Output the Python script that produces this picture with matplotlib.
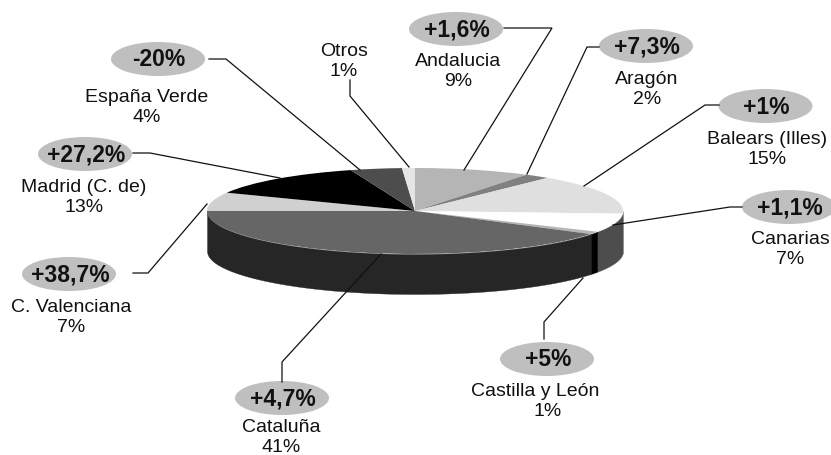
import numpy as np
import matplotlib
matplotlib.use("Agg")
import matplotlib.pyplot as plt
from matplotlib.patches import Ellipse

plt.rcParams['font.family'] = ['Liberation Sans', 'DejaVu Sans']

# Regional shares, clockwise from twelve o'clock
regions = ["Andalucia", "Aragón", "Balears (Illes)", "Canarias", "Castilla y León",
           "Cataluña", "C. Valenciana", "Madrid (C. de)", "España Verde", "Otros"]
shares = [9, 2, 15, 7, 1, 41, 7, 13, 4, 1]
changes = ["+1,6%", "+7,3%", "+1%", "+1,1%", "+5%", "+4,7%", "+38,7%", "+27,2%", "-20%", None]

top_colors = ["#b5b5b5", "#808080", "#dfdfdf", "#ffffff", "#b5b5b5",
              "#666666", "#d0d0d0", "#000000", "#4d4d4d", "#e5e5e5"]
side_colors = ["#8a8a8a", "#606060", "#a0a0a0", "#4d4d4d", "#000000",
               "#262626", "#909090", "#000000", "#303030", "#a0a0a0"]

W, H = 831, 455
PIE_LEFT, PIE_RIGHT, PIE_TOP, PIE_MID, WALL = 207, 623, 168, 211, 40

fig = plt.figure(figsize=(W / 100, H / 100), dpi=100, facecolor="white")

# Pie axes: the unit circle is squashed to an ellipse by the axes shape
semi_y = PIE_MID - PIE_TOP
depth = WALL / semi_y
pie_ax = fig.add_axes([PIE_LEFT / W, 1 - (PIE_TOP + 2 * semi_y + WALL) / H,
                       (PIE_RIGHT - PIE_LEFT) / W, (2 * semi_y + WALL) / H])
pie_ax.pie(shares, colors=top_colors, startangle=90, counterclock=False,
           center=(0, 0), radius=1, wedgeprops={"linewidth": 0, "zorder": 3})

# Outer wall: only the front half of each slice's rim is visible
edges = np.cumsum([0] + shares) / sum(shares) * 360
for start, stop, color in zip(edges[:-1], edges[1:], side_colors):
    lo, hi = max(start, 90), min(stop, 270)
    if hi <= lo:
        continue
    theta = np.radians(np.linspace(lo, hi, 80))
    x, y = np.sin(theta), np.cos(theta)
    pie_ax.fill_between(x, y - depth, y, color=color, linewidth=0.25, zorder=2)

pie_ax.set_aspect("auto")
pie_ax.set_xlim(-1, 1)
pie_ax.set_ylim(-1 - depth, 1)
pie_ax.axis("off")

# Overlay in pixel coordinates for leaders, bubbles and captions
ov = fig.add_axes([0, 0, 1, 1], facecolor="none")
ov.set_xlim(0, W)
ov.set_ylim(H, 0)
ov.axis("off")

leaders = [
    [(504, 28), (552, 28), (464, 170)],
    [(599, 47), (587, 47), (527, 174)],
    [(719, 105), (705, 105), (584, 186)],
    [(742, 207), (730, 207), (613, 225)],
    [(544, 339), (544, 322), (583, 278)],
    [(282, 382), (282, 362), (381, 254)],
    [(133, 273), (148, 273), (207, 204)],
    [(133, 153), (150, 153), (280, 178)],
    [(209, 59), (226, 59), (360, 170)],
    [(350, 80), (350, 96), (409, 167)],
]
for path in leaders:
    xs, ys = zip(*path)
    ov.plot(xs, ys, color="#111111", lw=0.9, solid_joinstyle="miter")

bubble_xy = [(456, 29), (646, 46), (765.5, 106), (789, 207), (547, 359),
             (282, 398), (69, 274), (85, 154), (158, 59), None]
caption_xy = [(458, 70), (647, 87), (767, 147), (790, 248), (535, 399),
              (281, 435), (71, 315), (84, 195), (147, 105), (344, 59)]

for name, share, change, bxy, cxy in zip(regions, shares, changes, bubble_xy, caption_xy):
    if change is not None:
        ov.add_patch(Ellipse(bxy, 94, 34, facecolor="#bfbfbf", edgecolor="none"))
        ov.text(bxy[0] + 1, bxy[1] + 1, change, ha="center", va="center",
                fontsize=16.5, fontweight="bold", color="#111111")
    pct_x = 548 if name == "Castilla y León" else cxy[0]
    ov.text(cxy[0], cxy[1] - 8, name, ha="center", va="center", fontsize=14, color="#111111")
    ov.text(pct_x, cxy[1] + 12, f"{share}%", ha="center", va="center", fontsize=14, color="#111111")

fig.savefig("out.png", dpi=100, facecolor="white")
